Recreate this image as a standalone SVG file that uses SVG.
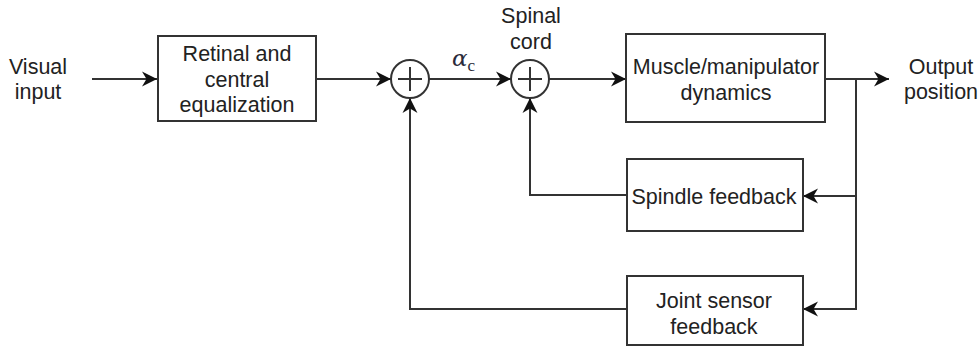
<svg xmlns="http://www.w3.org/2000/svg" width="980" height="347" viewBox="0 0 980 347">
<defs>
<style>
.box{fill:#fff;stroke:#333;stroke-width:2}
.t{font-family:"Liberation Sans",Arial,sans-serif;font-size:21.5px;fill:#222;text-anchor:middle}
.ln{fill:none;stroke:#333;stroke-width:2}
.sum{fill:#fff;stroke:#333;stroke-width:2}
.plus{stroke:#333;stroke-width:2}
</style>
<marker id="ah" viewBox="0 0 16 16" refX="15" refY="8" markerWidth="16" markerHeight="16" markerUnits="userSpaceOnUse" orient="auto">
<path d="M0,0.5 L15,8 L0,15.5 L4.5,8 Z" fill="#111"/>
</marker>
</defs>
<rect width="980" height="347" fill="#fff"/>
<g id="connectors">
<line class="ln" x1="92" y1="79" x2="157" y2="79" marker-end="url(#ah)"/>
<line class="ln" x1="316" y1="79" x2="391" y2="79" marker-end="url(#ah)"/>
<line class="ln" x1="429" y1="79" x2="511" y2="79" marker-end="url(#ah)"/>
<line class="ln" x1="549" y1="79" x2="626" y2="79" marker-end="url(#ah)"/>
<line class="ln" x1="825" y1="79" x2="889" y2="79" marker-end="url(#ah)"/>
<polyline class="ln" points="856,79 856,196 803,196" marker-end="url(#ah)"/>
<polyline class="ln" points="856,196 856,309 803,309" marker-end="url(#ah)"/>
<polyline class="ln" points="627,195 530,195 530,98" marker-end="url(#ah)"/>
<polyline class="ln" points="627,309 410,309 410,98" marker-end="url(#ah)"/>
</g>
<g id="visual-input">
<text class="t" x="38" y="74">Visual</text>
<text class="t" x="38" y="99">input</text>
</g>
<g id="retinal">
<rect class="box" x="158" y="36" width="158" height="85"/>
<text class="t" x="237" y="61">Retinal and</text>
<text class="t" x="237" y="87">central</text>
<text class="t" x="237" y="112">equalization</text>
</g>
<g id="sum1">
<circle class="sum" cx="410" cy="79" r="19"/>
<line class="plus" x1="398" y1="79" x2="422" y2="79"/>
<line class="plus" x1="410" y1="67" x2="410" y2="91"/>
</g>
<g id="alpha-label">
<text x="452" y="66" font-family="'DejaVu Serif','Liberation Serif',serif" font-style="italic" font-size="23" fill="#2a2a3a">α<tspan font-family="'Liberation Serif',serif" font-style="normal" font-size="17" dy="5">c</tspan></text>
</g>
<g id="sum2">
<circle class="sum" cx="530" cy="79" r="19"/>
<line class="plus" x1="518" y1="79" x2="542" y2="79"/>
<line class="plus" x1="530" y1="67" x2="530" y2="91"/>
<text class="t" x="531" y="23">Spinal</text>
<text class="t" x="531" y="49">cord</text>
</g>
<g id="muscle">
<rect class="box" x="626" y="34" width="199" height="88"/>
<text class="t" x="726" y="74">Muscle/manipulator</text>
<text class="t" x="726" y="100">dynamics</text>
</g>
<g id="output-position">
<text class="t" x="941" y="74">Output</text>
<text class="t" x="941" y="99">position</text>
</g>
<g id="spindle">
<rect class="box" x="627" y="159" width="176" height="72"/>
<text class="t" x="714" y="204">Spindle feedback</text>
</g>
<g id="joint">
<rect class="box" x="627" y="276" width="176" height="69"/>
<text class="t" x="714" y="308">Joint sensor</text>
<text class="t" x="714" y="334">feedback</text>
</g>
</svg>
